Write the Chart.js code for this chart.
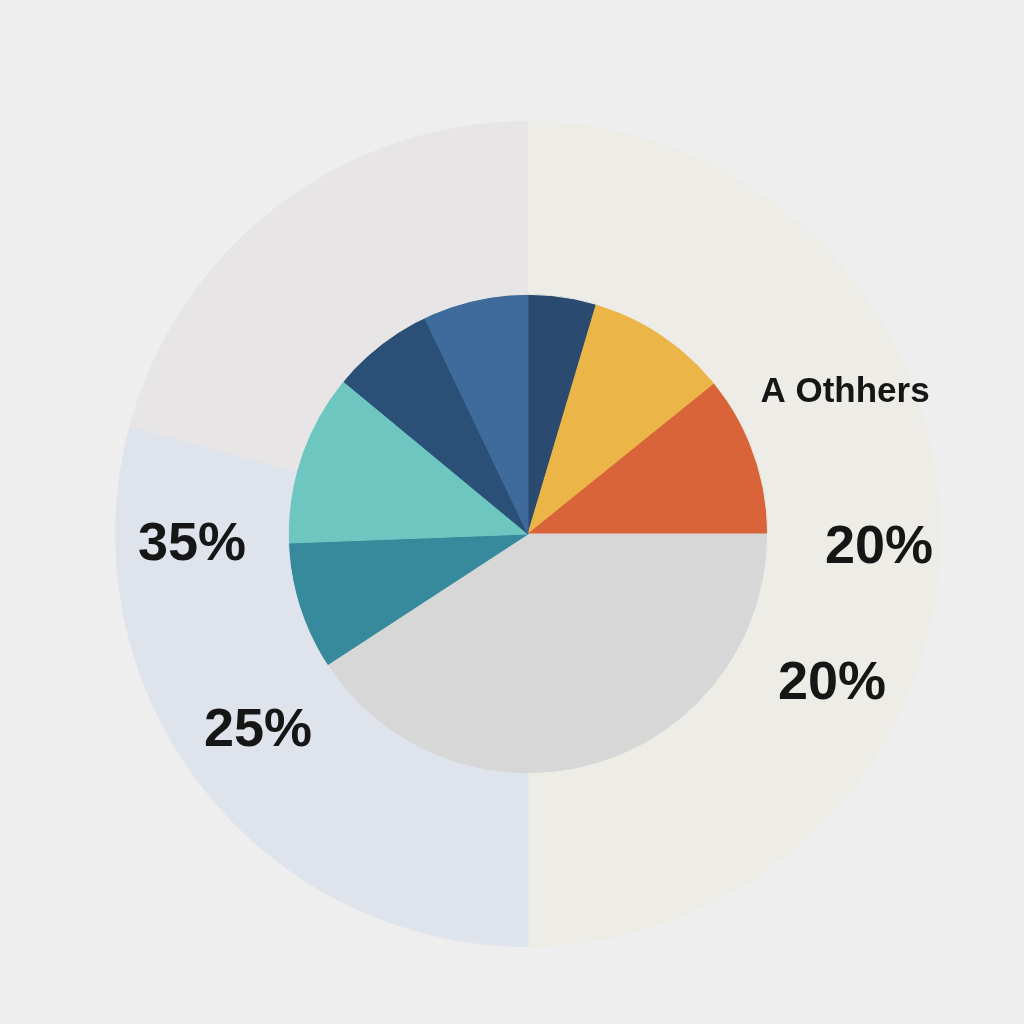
<!DOCTYPE html>
<html>
<head>
<meta charset="utf-8">
<script src="https://cdn.jsdelivr.net/npm/chart.js@4.4.1/dist/chart.umd.min.js"></script>
<style>
  html, body { margin: 0; padding: 0; background: #eeeeee; }
  #wrap { width: 1024px; height: 1024px; position: relative; }
</style>
</head>
<body>
<div id="wrap"><canvas id="pie"></canvas></div>
<script>
// background ring (big faint disc behind the pie)
const ringNames = ["Right half", "Lower left", "Upper left"];
const ringValues = [50, 29.2, 20.8];
const ringColors = ["#edece7", "#dfe3ec", "#e7e5e5"];

// inner pie, clockwise from 12 o'clock
const sliceNames = ["S1", "S2", "S3", "S4", "S5", "S6", "S7", "S8"];
const sliceValues = [4.6, 9.6, 10.8, 40.8, 8.6, 11.6, 6.9, 7.1];
const sliceColors = ["#2b4a6f", "#ecb547", "#d9643a", "#d7d7d7", "#368a9c", "#6dc7c0", "#2a5077", "#3e6b9b"];

// free-floating text labels
const labelTexts = ["A Othhers", "20%", "20%", "35%", "25%"];

// label placement, offset from the pie centre (px) + font size
const labelLayout = [
  { dx: 317, dy: -142, size: 35 },
  { dx: 351, dy: 14, size: 54 },
  { dx: 304, dy: 150, size: 54 },
  { dx: -336, dy: 11, size: 54 },
  { dx: -270, dy: 197, size: 54 },
];

const textPlugin = {
  id: "floatingText",
  afterDraw(chart) {
    const arc = chart.getDatasetMeta(1).data[0];
    if (!arc) return;
    const ctx = chart.ctx;
    ctx.save();
    ctx.fillStyle = "#161616";
    ctx.textAlign = "center";
    ctx.textBaseline = "middle";
    labelTexts.forEach((t, i) => {
      const l = labelLayout[i];
      ctx.font = `bold ${l.size}px "Liberation Sans", Arial, sans-serif`;
      ctx.fillText(t, arc.x + l.dx, arc.y + l.dy);
    });
    ctx.restore();
  },
};

const ctx = document.getElementById("pie").getContext("2d");
new Chart(ctx, {
  type: "pie",
  data: {
    datasets: [
      {
        label: "ring",
        data: ringValues,
        backgroundColor: ringColors,
        borderColor: ringColors,
        borderWidth: 1,
        weight: 173,
      },
      {
        label: "share",
        data: sliceValues,
        backgroundColor: sliceColors,
        borderColor: sliceColors,
        borderWidth: 1,
        weight: 240,
      },
    ],
    labels: sliceNames,
  },
  options: {
    responsive: true,
    maintainAspectRatio: false,
    animation: false,
    layout: { padding: { left: 115, right: 83, top: 121, bottom: 77 } },
    plugins: {
      legend: { display: false },
      tooltip: { enabled: false },
    },
  },
  plugins: [textPlugin],
});
</script>
</body>
</html>
